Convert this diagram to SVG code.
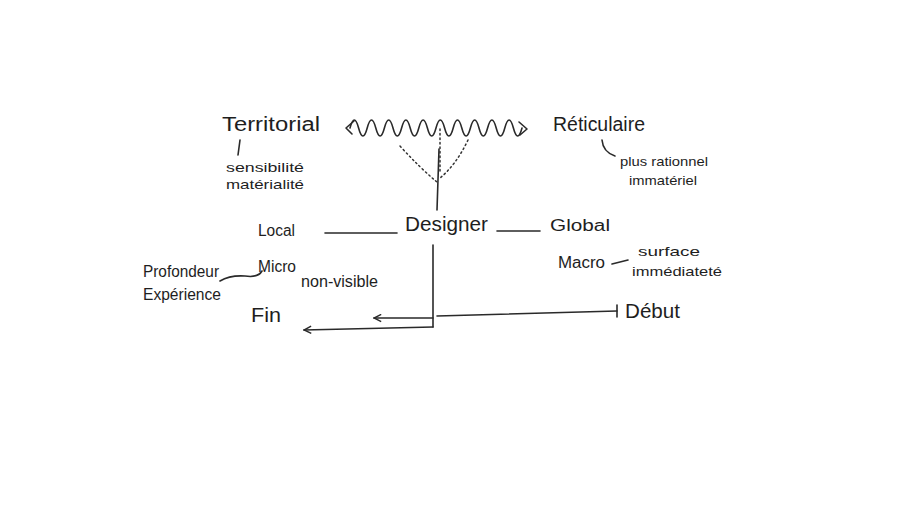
<svg xmlns="http://www.w3.org/2000/svg" width="910" height="512" viewBox="0 0 910 512">
<style>
.t{font-family:"Liberation Sans",Arial,sans-serif;fill:#1e1e1e}
.big{font-size:20px}
.mid{font-size:16px}
.sm{font-size:13px}
.ln{fill:none;stroke:#2a2a2a;stroke-width:1.6;stroke-linecap:round;stroke-linejoin:round}
.dot{fill:none;stroke:#333;stroke-width:1.5;stroke-dasharray:1.5 3;stroke-linecap:round}
</style>
<defs>
<marker id="ah" viewBox="0 0 10 10" refX="9" refY="5" markerWidth="9" markerHeight="9" orient="auto" markerUnits="userSpaceOnUse">
<path d="M1,1 L9,5 L1,9" fill="none" stroke="#2a2a2a" stroke-width="1.6"/>
</marker>
</defs>
<rect width="910" height="512" fill="#ffffff"/>
<g id="connectors">
<path class="ln" d="M350,128 q4.3,-16 8.6,0 t8.6,0 t8.6,0 t8.6,0 t8.6,0 t8.6,0 t8.6,0 t8.6,0 t8.6,0 t8.6,0 t8.6,0 t8.6,0 t8.6,0 t8.6,0 t8.6,0 t8.6,0 t8.6,0 t8.6,0 t8.6,0 t8.6,0"/>
<path class="ln" d="M354,121 L346,128 L352,134"/>
<path class="ln" d="M519,122 L527,129 L520,135"/>
<path class="dot" d="M400,146 Q420,168 437,182"/>
<path class="dot" d="M440,129 L440,172"/>
<path class="dot" d="M468,140 Q456,165 440,178"/>
<path class="ln" d="M439,149 L437,210"/>
<path class="ln" d="M240,140 L238,155"/>
<path class="ln" d="M602,140 Q603,152 615,156"/>
<path class="ln" d="M325,233 L397,233"/>
<path class="ln" d="M497,231 L540,231"/>
<path class="ln" d="M220,281 Q230,275 245,276 Q258,278 262,271"/>
<path class="ln" d="M612,264 L628,260"/>
<path class="ln" d="M433,245 L433,327"/>
<path class="ln" d="M433,318 L374,318" marker-end="url(#ah)"/>
<path class="ln" d="M433,327 L304,330" marker-end="url(#ah)"/>
<path class="ln" d="M437,316 L617,311"/>
<path class="ln" d="M617,305 L617,317"/>
</g>
<g id="territorial"><text class="t big" x="222" y="131" textLength="98" lengthAdjust="spacingAndGlyphs">Territorial</text></g>
<g id="territorial-note">
<text class="t sm" x="226" y="172" textLength="78" lengthAdjust="spacingAndGlyphs">sensibilité</text>
<text class="t sm" x="226" y="189" textLength="78" lengthAdjust="spacingAndGlyphs">matérialité</text>
</g>
<g id="reticulaire"><text class="t big" x="553" y="131" textLength="92" lengthAdjust="spacingAndGlyphs">Réticulaire</text></g>
<g id="reticulaire-note">
<text class="t sm" x="620" y="166" textLength="88" lengthAdjust="spacingAndGlyphs">plus rationnel</text>
<text class="t sm" x="629" y="185" textLength="68" lengthAdjust="spacingAndGlyphs">immatériel</text>
</g>
<g id="local"><text class="t mid" x="258" y="236" textLength="37" lengthAdjust="spacingAndGlyphs">Local</text></g>
<g id="designer"><text class="t big" x="405" y="231" textLength="83" lengthAdjust="spacingAndGlyphs">Designer</text></g>
<g id="global"><text class="t mid" x="550" y="231" textLength="60" lengthAdjust="spacingAndGlyphs">Global</text></g>
<g id="micro"><text class="t mid" x="258" y="272" textLength="38" lengthAdjust="spacingAndGlyphs">Micro</text></g>
<g id="non-visible"><text class="t mid" x="301" y="287" textLength="77" lengthAdjust="spacingAndGlyphs">non-visible</text></g>
<g id="profondeur">
<text class="t mid" x="143" y="277" textLength="76" lengthAdjust="spacingAndGlyphs">Profondeur</text>
<text class="t mid" x="143" y="300" textLength="78" lengthAdjust="spacingAndGlyphs">Expérience</text>
</g>
<g id="macro"><text class="t mid" x="558" y="268" textLength="47" lengthAdjust="spacingAndGlyphs">Macro</text></g>
<g id="macro-note">
<text class="t sm" x="638" y="256" textLength="62" lengthAdjust="spacingAndGlyphs">surface</text>
<text class="t sm" x="632" y="276" textLength="90" lengthAdjust="spacingAndGlyphs">immédiateté</text>
</g>
<g id="fin"><text class="t big" x="251" y="322" textLength="30" lengthAdjust="spacingAndGlyphs">Fin</text></g>
<g id="debut"><text class="t big" x="625" y="318" textLength="55" lengthAdjust="spacingAndGlyphs">Début</text></g>
</svg>
